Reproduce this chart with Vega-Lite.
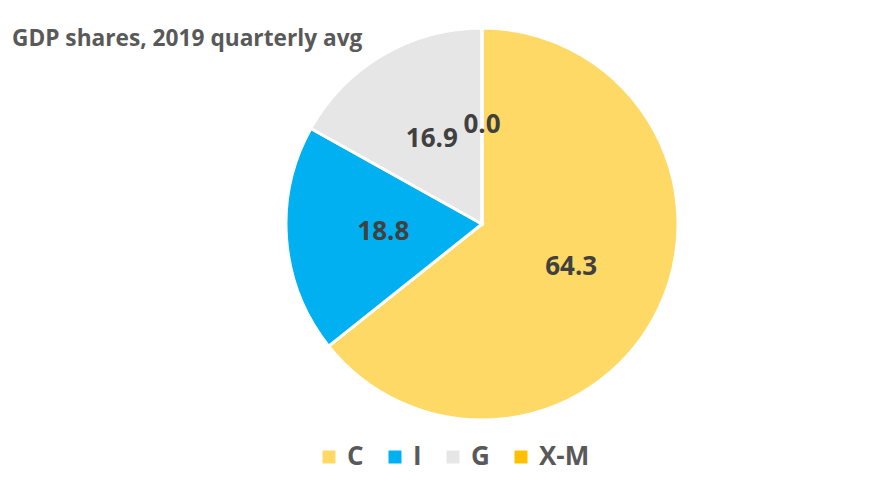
{
  "$schema": "https://vega.github.io/schema/vega-lite/v6.json",
  "width": 392,
  "height": 394,
  "autosize": {"type": "none"},
  "padding": {"left": 286, "top": 27, "right": 192, "bottom": 74},
  "background": "white",
  "config": {"view": {"stroke": null}},
  "title": {
    "text": "GDP shares, 2019 quarterly avg",
    "anchor": "start",
    "frame": "group",
    "offset": -29,
    "dx": -274,
    "font": "Open Sans",
    "fontSize": 22.7,
    "fontWeight": "bold",
    "color": "#595959"
  },
  "data": {
    "values": [
      {"component": "C", "share": 64.3, "order": 1},
      {"component": "I", "share": 18.8, "order": 2},
      {"component": "G", "share": 16.9, "order": 3},
      {"component": "X-M", "share": 0.0, "order": 4}
    ]
  },
  "encoding": {
    "theta": {"field": "share", "type": "quantitative", "stack": true},
    "order": {"field": "order", "type": "quantitative"},
    "color": {
      "field": "component",
      "type": "nominal",
      "sort": ["C", "I", "G", "X-M"],
      "scale": {"domain": ["C", "I", "G", "X-M"], "range": ["#FFD966", "#00B0F0", "#E7E6E6", "#FFC000"]},
      "legend": {
        "orient": "none",
        "legendX": 30,
        "legendY": 417,
        "direction": "horizontal",
        "gridAlign": "none",
        "title": null,
        "symbolType": "square",
        "symbolSize": 169,
        "symbolStrokeWidth": 0,
        "labelFont": "Open Sans",
        "labelFontSize": 26,
        "labelFontWeight": "bold",
        "labelColor": "#595959",
        "columnPadding": 18,
        "labelOffset": 5
      }
    }
  },
  "layer": [
    {"mark": {"type": "arc", "stroke": "white", "strokeWidth": 3}},
    {
      "mark": {"type": "text", "radius": 99, "font": "Open Sans", "fontSize": 26, "fontWeight": "bold", "fill": "#404040"},
      "encoding": {"text": {"field": "share", "type": "quantitative", "format": ".1f"}, "color": {"value": "#404040"}}
    }
  ]
}
